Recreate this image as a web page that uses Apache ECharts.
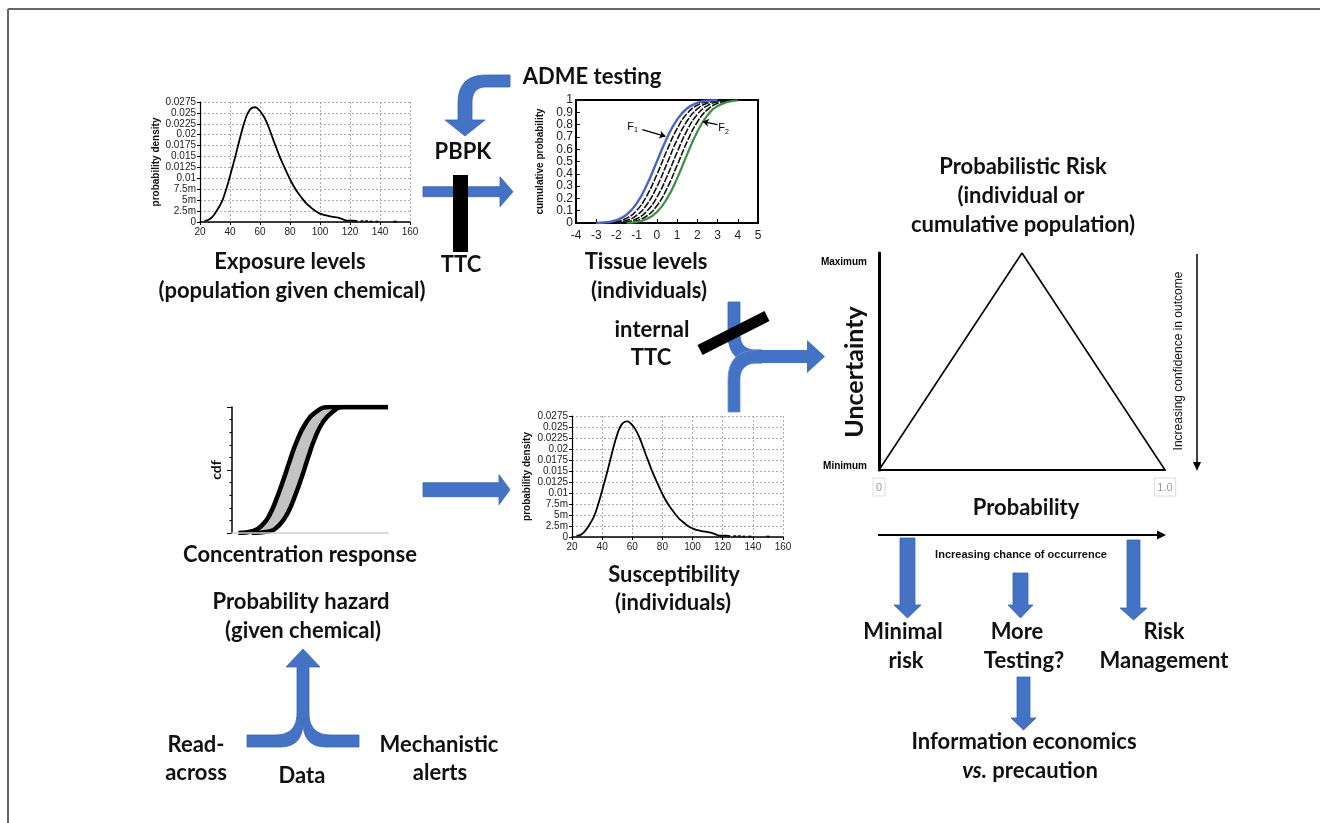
<!DOCTYPE html>
<html><head><meta charset="utf-8">
<script src="https://cdn.jsdelivr.net/npm/echarts@6/dist/echarts.min.js"></script>
<style>html,body{margin:0;padding:0;background:#fff}#c{width:1320px;height:823px}</style>
</head><body><div id="c"></div>
<script>
// ---------- data ----------
const densX = [23,25,27,29,31,33,35,37,39,41,43,45,47,49,51,53,55,57,59,61,63,65,67,69,71,73,75,77,79,81,83,85,87,89,91,93,95,97,99,101,104,107,110,113,116,119,122,125];
const densY = [0.0003,0.0004,0.0008,0.0015,0.0025,0.0036,0.005,0.007,0.0093,0.0118,0.0143,0.017,0.0197,0.0222,0.0243,0.0256,0.0262,0.0263,0.0258,0.025,0.0239,0.0224,0.0206,0.0187,0.0169,0.0151,0.0135,0.012,0.0105,0.0091,0.0079,0.0068,0.0059,0.005,0.0042,0.0036,0.003,0.0025,0.0021,0.0018,0.0015,0.0013,0.0011,0.0009,0.0005,0.0003,0.0003,0.0002];
const tailX = [128,131,134,138,150];
const tailY = [0.0002,0.0002,0.0001,0.0001,0.0001];
const densTickLabels = ['0','2.5m','5m','7.5m','0.01','0.0125','0.015','0.0175','0.02','0.0225','0.025','0.0275'];

const tisX = [-3,-2.5,-2,-1.5,-1,-0.5,0,0.5,1,1.5,2,2.5,3,3.5,4];
const tisBlue  = [0.001,0.006,0.023,0.067,0.159,0.309,0.5,0.691,0.841,0.933,0.977,0.994,0.999,null,null];
const tisB1    = [null,0.003,0.012,0.038,0.102,0.221,0.394,0.591,0.767,0.891,0.958,0.987,0.997,1,1];
const tisB2    = [null,0.001,0.006,0.021,0.062,0.149,0.295,0.484,0.677,0.831,0.928,0.975,0.993,0.998,1];
const tisB3    = [null,null,0.002,0.010,0.035,0.095,0.209,0.378,0.575,0.755,0.883,0.954,0.986,0.996,1];
const tisB4    = [null,null,0.001,0.005,0.019,0.057,0.140,0.281,0.468,0.663,0.821,0.922,0.973,0.992,0.998];
const tisGreen = [null,null,null,0.002,0.009,0.032,0.089,0.198,0.363,0.56,0.742,0.875,0.95,0.984,0.996];
const tisXLabels = ['-4','-3','-2','-1','0','1','2','3','4','5'];

const cdfLowX  = [4.1,13.7,20.1,24.4,28.6,32.9,37.2,41.5,46.8,53.2,62.8,100];
const cdfLowY  = [0,0.016,0.072,0.152,0.273,0.42,0.58,0.727,0.861,0.955,1,1];
const cdfHighX = [12.6,23.0,30.0,36.0,40.5,44.8,49.0,53.2,58.0,63.8,71.4,100];
const cdfHighY = [0,0.011,0.059,0.166,0.299,0.447,0.607,0.754,0.874,0.955,1,1];

const triX = [0,0.5,1];
const triY = [0,1,0];
const triXLabels = ['0','1.0'];
const triYLabels = ['Minimum','Maximum'];

// ---------- helpers ----------
const zip = (a,b) => a.map((v,i)=>[v,b[i]]);
const AR = 'Arial, "Liberation Sans", sans-serif';
const FONT = 'Lato, "Noto Sans", sans-serif';
const BLUE = '#4472C4';
const BSTROKE = '#3b65b4';

function T(x,y,text,size,extra,rot){
  const el = {type:'text', x:x, y:y, z:50, style:Object.assign({text:text, font:'bold '+size+'px '+FONT, fill:'#111', textAlign:'center', textVerticalAlign:'middle'}, extra||{})};
  if (rot) el.rotation = rot;
  return el;
}
// convert simple M/L/Q command list to polygon points (diagram shapes only)
function shapePts(cmds){
  const pts = []; let cx=0, cy=0;
  cmds.forEach(c=>{
    if (c[0]==='M' || c[0]==='L'){ cx=c[1]; cy=c[2]; pts.push([cx,cy]); }
    else if (c[0]==='Q'){
      const x0=cx, y0=cy, qx=c[1], qy=c[2], x1=c[3], y1=c[4];
      for (let i=1;i<=12;i++){ const t=i/12, u=1-t;
        pts.push([u*u*x0+2*u*t*qx+t*t*x1, u*u*y0+2*u*t*qy+t*t*y1]); }
      cx=x1; cy=y1;
    }
  });
  return pts;
}
function blueShape(cmds, z, stroke){
  return {type:'polygon', z:z||20, shape:{points:shapePts(cmds)}, style:{fill:BLUE, stroke:stroke||BSTROKE, lineWidth:0.8}};
}
function downArrow(cx, top, tip, sw, hw, hh){
  return {type:'polygon', z:20, shape:{points:[[cx-sw/2,top],[cx+sw/2,top],[cx+sw/2,tip-hh],[cx+hw/2,tip-hh],[cx,tip],[cx-hw/2,tip-hh],[cx-sw/2,tip-hh]]}, style:{fill:BLUE, stroke:BSTROKE, lineWidth:0.8}};
}
function rightArrow(left, cy, shaftEnd, tip, sh, hh){
  return {type:'polygon', z:20, shape:{points:[[left,cy-sh/2],[shaftEnd,cy-sh/2],[shaftEnd,cy-hh/2],[tip,cy],[shaftEnd,cy+hh/2],[shaftEnd,cy+sh/2],[left,cy+sh/2]]}, style:{fill:BLUE, stroke:BSTROKE, lineWidth:0.8}};
}

function densAxes(g){
  return {
    x:{gridIndex:g, type:'value', min:20, max:160, interval:20,
      axisLine:{show:true, onZero:false, lineStyle:{color:'#000', width:1.5}},
      axisTick:{show:true, length:3, lineStyle:{color:'#000'}},
      axisLabel:{fontSize:10, color:'#222', fontFamily:AR, margin:5},
      splitLine:{show:true, lineStyle:{type:[2,2], color:'#999', width:0.8}}},
    y:{gridIndex:g, type:'value', min:0, max:0.0275, interval:0.0025,
      name:'probability density', nameLocation:'middle', nameGap:38,
      nameTextStyle:{fontSize:10, fontWeight:'bold', fontFamily:AR, color:'#111'},
      axisLine:{show:true, onZero:false, lineStyle:{color:'#000', width:1.2}},
      axisTick:{show:true, length:3, lineStyle:{color:'#000'}},
      axisLabel:{fontSize:10, color:'#222', fontFamily:AR, margin:4,
        formatter:function(v){return densTickLabels[Math.round(v/0.0025)];}},
      splitLine:{show:true, lineStyle:{type:[2,2], color:'#999', width:0.8}}}
  };
}
const d0 = densAxes(0), d3 = densAxes(3);
d3.y.nameGap = 40;

function tisLine(data, color, width, type){
  return {type:'line', xAxisIndex:1, yAxisIndex:1, data:zip(tisX,data), showSymbol:false, smooth:0.5,
    lineStyle:{color:color, width:width, type:type||'solid'}, silent:true, z:3};
}

const series = [
  {type:'line', xAxisIndex:0, yAxisIndex:0, data:zip(densX,densY), showSymbol:false, smooth:0.3, lineStyle:{color:'#000', width:1.8}, silent:true},
  {type:'scatter', xAxisIndex:0, yAxisIndex:0, data:zip(tailX,tailY), symbol:'rect', symbolSize:[3,2], itemStyle:{color:'#000'}, silent:true},
  tisLine(tisB1,'#111',1.6,[7,1.5]),
  tisLine(tisB2,'#111',1.6,[7,1.5]),
  tisLine(tisB3,'#111',1.6,[7,1.5]),
  tisLine(tisB4,'#111',1.6,[7,1.5]),
  tisLine(tisGreen,'#3a8f43',2.2),
  Object.assign(tisLine(tisBlue,'#4a66c0',2.4), {
    markLine:{silent:true, symbol:['none','arrow'], symbolSize:6, label:{show:false},
      lineStyle:{color:'#000', width:1.3, type:'solid'},
      data:[[{coord:[-0.72,0.76]},{coord:[0.42,0.705]}],[{coord:[3.0,0.80]},{coord:[2.27,0.825]}]]},
    markPoint:{silent:true, symbol:'circle', symbolSize:0,
      label:{show:true, color:'#000', fontFamily:AR, formatter:function(p){return p.name==='F1'?'{a|F}{b|1}':'{a|F}{b|2}';},
        rich:{a:{fontSize:11, fontFamily:AR}, b:{fontSize:7, fontFamily:AR, padding:[7,0,0,0]}}},
      data:[{name:'F1', coord:[-1.2,0.78]},{name:'F2', coord:[3.3,0.77]}]}
  }),
  {type:'line', xAxisIndex:2, yAxisIndex:2, data:zip(cdfLowX,cdfLowY), showSymbol:false, smooth:0.5, lineStyle:{width:0}, areaStyle:{color:'#c3c3c3', opacity:1}, silent:true, z:1},
  {type:'line', xAxisIndex:2, yAxisIndex:2, data:zip(cdfHighX,cdfHighY), showSymbol:false, smooth:0.5, lineStyle:{width:0}, areaStyle:{color:'#fff', opacity:1}, silent:true, z:1},
  {type:'line', xAxisIndex:2, yAxisIndex:2, data:zip(cdfLowX,cdfLowY), showSymbol:false, smooth:0.5, lineStyle:{color:'#000', width:4.5}, silent:true, z:3},
  {type:'line', xAxisIndex:2, yAxisIndex:2, data:zip(cdfHighX,cdfHighY), showSymbol:false, smooth:0.5, lineStyle:{color:'#000', width:4.5}, silent:true, z:3},
  {type:'line', xAxisIndex:3, yAxisIndex:3, data:zip(densX,densY), showSymbol:false, smooth:0.3, lineStyle:{color:'#000', width:1.8}, silent:true},
  {type:'scatter', xAxisIndex:3, yAxisIndex:3, data:zip(tailX,tailY), symbol:'rect', symbolSize:[3,2], itemStyle:{color:'#000'}, silent:true},
  {type:'line', xAxisIndex:4, yAxisIndex:4, data:zip(triX,triY), showSymbol:false, lineStyle:{color:'#000', width:1.6}, silent:true}
];

// ---------- graphic (diagram arrows and captions) ----------
const S = 22;
const graphic = [
  {type:'line', z:1, shape:{x1:8,y1:9,x2:1320,y2:9}, style:{stroke:'#666', lineWidth:2}},
  {type:'line', z:1, shape:{x1:8,y1:9,x2:8,y2:823}, style:{stroke:'#666', lineWidth:2}},

  T(290,262,'Exposure levels',S),
  T(292,291,'(population given chemical)',S),
  T(592,77,'ADME testing',S),
  T(463,152,'PBPK',S),
  T(461,265,'TTC',S),
  T(646,262,'Tissue levels',S),
  T(649,291,'(individuals)',S),
  T(652,330,'internal',S),
  T(651,358,'TTC',S),
  T(300,555,'Concentration response',S),
  T(301,602,'Probability hazard',S),
  T(303,631,'(given chemical)',S),
  T(674,575,'Susceptibility',S),
  T(673,603,'(individuals)',S),
  T(196,745,'Read-',S),
  T(196,773,'across',S),
  T(302,776,'Data',S),
  T(439,745,'Mechanistic',S),
  T(440,773,'alerts',S),
  T(1023,167,'Probabilistic Risk',S),
  T(1021,196,'(individual or',S),
  T(1023,225,'cumulative population)',S),
  T(855,372,'Uncertainty',25,null,Math.PI/2),
  T(1026,508,'Probability',22),
  T(903,632,'Minimal',S),
  T(906,661,'risk',S),
  T(1017,632,'More',S),
  T(1024,661,'Testing?',S),
  T(1164,632,'Risk',S),
  T(1164,661,'Management',S),
  T(1024,742,'Information economics',S),
  {type:'text', x:1030, y:771, z:50, style:{text:'{i|vs.} precaution', font:'bold '+S+'px '+FONT, fill:'#111', textAlign:'center', textVerticalAlign:'middle',
     rich:{i:{fontStyle:'italic', fontWeight:'bold', fontSize:S, fontFamily:FONT}}}},
  T(216,470,'cdf',14,null,Math.PI/2),
  {type:'text', x:1021, y:555, z:50, style:{text:'Increasing chance of occurrence', font:'bold 11px '+AR, fill:'#111', textAlign:'center', textVerticalAlign:'middle'}},
  {type:'text', x:1179, y:361, z:50, rotation:Math.PI/2, style:{text:'Increasing confidence in outcome', font:'12px '+AR, fill:'#111', textAlign:'center', textVerticalAlign:'middle'}},

  {type:'line', z:20, shape:{x1:878,y1:535,x2:1160,y2:535}, style:{stroke:'#000', lineWidth:2}},
  {type:'polygon', z:20, shape:{points:[[1157,530.5],[1166,535],[1157,539.5]]}, style:{fill:'#000'}},
  {type:'line', z:20, shape:{x1:1197,y1:254,x2:1197,y2:464}, style:{stroke:'#000', lineWidth:1.5}},
  {type:'polygon', z:20, shape:{points:[[1193,462],[1197,471],[1201,462]]}, style:{fill:'#000'}},

  blueShape([['M',510,75],['L',486,75],['Q',458,75,458,103],['L',458,120],['L',445,120],['L',465,136],['L',485,120],['L',472,120],['L',472,103],['Q',472,87,486,87],['L',510,87]]),
  rightArrow(423,191.7,500,513,10,30),
  {type:'rect', z:30, shape:{x:453,y:175,width:15,height:77}, style:{fill:'#000'}},
  rightArrow(423,489.7,499,510,14,30),
  blueShape([['M',728,302],['L',740,302],['L',740,334],['Q',740,350,756,350],['L',762,350],['L',762,363],['L',756,363],['Q',728,363,728,334]]),
  blueShape([['M',728,412],['L',728,380],['Q',728,350,758,350],['L',762,350],['L',762,363],['L',758,363],['Q',740,363,740,380],['L',740,412]], 21, '#6b8fd6'),
  {type:'polygon', z:22, shape:{points:[[757,350],[807,350],[807,340],[825,356.5],[807,373],[807,363],[757,363]]}, style:{fill:BLUE}},
  {type:'line', z:30, shape:{x1:700,y1:350,x2:767,y2:316}, style:{stroke:'#000', lineWidth:11}},
  blueShape([['M',247,735],['L',275,735],['Q',297,735,297,713],['L',297,667],['L',286,667],['L',303,649],['L',320,667],['L',309,667],['L',309,713],['Q',309,735,331,735],['L',359,735],['L',359,747],['L',326,747],['Q',303,747,303,722],['Q',303,747,280,747],['L',247,747]]),
  downArrow(907.5,538,618,15,27,13),
  downArrow(1020.5,573,618,15,25,13),
  downArrow(1133.5,540,620,13,27,12),
  downArrow(1023.5,677,730,13,25,12)
];

const option = {
  animation:false,
  backgroundColor:'#fff',
  grid:[
    {left:200, top:102, width:210, height:120},
    {left:576, top:100, width:182, height:123, show:true, borderColor:'#000', borderWidth:2, backgroundColor:'transparent'},
    {left:232, top:407, width:156, height:126},
    {left:572, top:416, width:211, height:121},
    {left:879, top:253, width:286, height:217}
  ],
  xAxis:[
    d0.x,
    {gridIndex:1, type:'value', min:-4, max:5, interval:1,
      axisLine:{show:true, onZero:false, lineStyle:{color:'#000', width:2}},
      axisTick:{show:true, inside:true, length:4, lineStyle:{color:'#000'}},
      axisLabel:{fontSize:12, color:'#222', fontFamily:AR, margin:7, formatter:function(v){return tisXLabels[Math.round(v)+4];}},
      splitLine:{show:false}},
    {gridIndex:2, type:'value', min:0, max:100, z:10,
      axisLine:{show:true, onZero:false, lineStyle:{color:'#cfcfcf', width:1.5}},
      axisTick:{show:false}, axisLabel:{show:false}, splitLine:{show:false}},
    d3.x,
    {gridIndex:4, type:'value', min:0, max:1, interval:1,
      axisLine:{show:true, onZero:false, lineStyle:{color:'#000', width:2}},
      axisTick:{show:false},
      axisLabel:{fontSize:11, color:'#999', fontFamily:AR, margin:8, borderColor:'#ddd', borderWidth:1, padding:[4,3,3,3],
        formatter:function(v){return triXLabels[Math.round(v)];}},
      splitLine:{show:false}}
  ],
  yAxis:[
    d0.y,
    {gridIndex:1, type:'value', min:0, max:1, interval:0.1,
      name:'cumulative probability', nameLocation:'middle', nameGap:31,
      nameTextStyle:{fontSize:10, fontWeight:'bold', fontFamily:AR, color:'#111'},
      axisLine:{show:true, onZero:false, lineStyle:{color:'#000', width:2}},
      axisTick:{show:true, inside:true, length:4, lineStyle:{color:'#000'}},
      axisLabel:{fontSize:12, color:'#222', fontFamily:AR, margin:3,
        formatter:function(v){return v===0?'0':(Math.abs(v-1)<1e-9?'1':v.toFixed(1));}},
      splitLine:{show:false}},
    {gridIndex:2, type:'value', min:0, max:1, interval:0.5,
      axisLine:{show:true, onZero:false, lineStyle:{color:'#000', width:1.5}},
      axisTick:{show:true, length:5, lineStyle:{color:'#000'}},
      minorTick:{show:true, splitNumber:5, length:2.5, lineStyle:{color:'#000'}},
      axisLabel:{show:false}, splitLine:{show:false}},
    d3.y,
    {gridIndex:4, type:'value', min:0, max:1, interval:1,
      axisLine:{show:true, onZero:false, lineStyle:{color:'#000', width:3}},
      axisTick:{show:false},
      axisLabel:{fontSize:10, fontWeight:'bold', color:'#000', fontFamily:AR, margin:12,
        formatter:function(v){return v===0?'{lo|'+triYLabels[0]+'}':'{hi|'+triYLabels[1]+'}';},
        rich:{lo:{fontSize:10, fontWeight:'bold', fontFamily:AR, padding:[0,0,8,0]}, hi:{fontSize:10, fontWeight:'bold', fontFamily:AR, padding:[18,0,0,0]}}},
      splitLine:{show:false}}
  ],
  series:series,
  graphic:graphic
};
const chart = echarts.init(document.getElementById('c'), null, {renderer:'canvas'});
chart.setOption(option);
</script>
</body></html>
